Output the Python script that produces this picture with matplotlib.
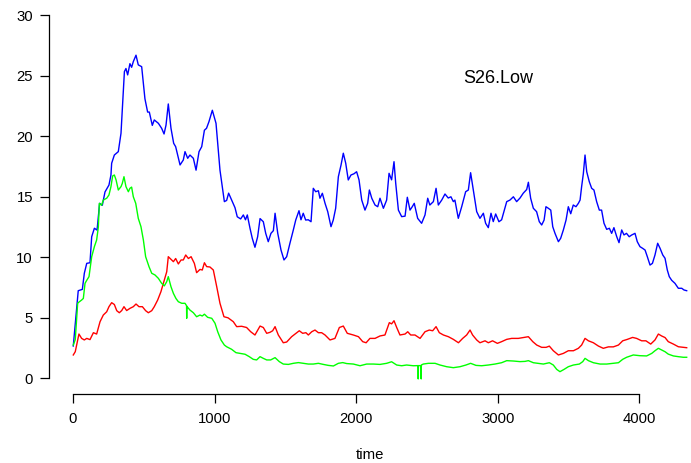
import matplotlib
matplotlib.use("Agg")
import matplotlib.pyplot as plt

plt.rcParams["font.family"] = ["Liberation Sans", "DejaVu Sans"]

# Blue series (time, value)
blue_t = [2, 37, 66, 80, 97, 120, 132, 151, 170, 188, 207, 226, 254, 268, 273, 292, 320,
          339, 363, 374, 386, 402, 414, 426, 445, 461, 485, 508, 527, 539, 560, 574, 603,
          626, 643, 657, 673, 692, 711, 725, 756, 779, 791, 810, 826, 850, 869, 890, 909,
          928, 943, 960, 984, 1010, 1038, 1069, 1085, 1099, 1120, 1144, 1160, 1184, 1203,
          1218, 1231, 1250, 1266, 1285, 1304, 1321, 1344, 1361, 1379, 1398, 1415, 1427,
          1446, 1469, 1490, 1509, 1532, 1556, 1573, 1596, 1610, 1626, 1643, 1662, 1681,
          1697, 1714, 1733, 1744, 1761, 1780, 1799, 1822, 1838, 1855, 1874, 1893, 1909,
          1926, 1944, 1963, 1984, 2003, 2020, 2039, 2062, 2081, 2093, 2110, 2133, 2152,
          2168, 2192, 2215, 2232, 2250, 2267, 2279, 2298, 2321, 2345, 2361, 2380, 2396,
          2410, 2434, 2462, 2486, 2505, 2520, 2545, 2564, 2580, 2604, 2627, 2650, 2669,
          2686, 2697, 2721, 2745, 2773, 2792, 2808, 2827, 2851, 2874, 2898, 2914, 2933,
          2952, 2968, 2985, 3008, 3027, 3046, 3063, 3086, 3110, 3133, 3157, 3180, 3204,
          3216, 3232, 3251, 3274, 3293, 3310, 3327, 3340, 3357, 3374, 3388, 3404, 3428,
          3444, 3463, 3482, 3498, 3515, 3533, 3552, 3569, 3581, 3592, 3604, 3616, 3628,
          3646, 3663, 3679, 3698, 3717, 3733, 3750, 3769, 3788, 3804, 3820, 3840, 3856,
          3875, 3891, 3909, 3928, 3945, 3969, 3985, 4004, 4023, 4040, 4056, 4075, 4092,
          4110, 4129, 4146, 4165, 4181, 4197, 4211, 4228, 4251, 4275, 4299, 4315, 4334]
blue_v = [2.67, 7.24, 7.35, 8.68, 9.5, 9.55, 11.7, 12.4, 12.25, 14.46, 14.3, 15.4, 15.97,
          16.8, 17.77, 18.45, 18.73, 20.25, 25.34, 25.6, 25.07, 26.0, 25.7, 26.17, 26.7,
          25.9, 25.75, 23.1, 22.0, 22.0, 20.9, 21.35, 21.07, 20.66, 20.19, 20.93, 22.67,
          20.66, 19.42, 19.14, 17.63, 18.04, 18.73, 18.18, 18.45, 18.18, 17.2, 18.73,
          19.14, 20.5, 20.66, 21.2, 22.15, 21.07, 17.2, 14.6, 14.7, 15.3, 14.73, 14.1,
          13.35, 13.17, 13.5, 13.1, 13.5, 12.4, 11.57, 10.83, 11.7, 13.2, 12.94, 11.98,
          11.29, 11.98, 12.2, 13.64, 11.98, 10.6, 9.78, 10.05, 11.16, 12.26, 13.08, 13.85,
          13.1, 13.64, 13.08, 13.1, 12.94, 15.7, 15.42, 15.5, 14.88, 15.29, 14.46, 13.77,
          12.53, 13.08, 14.05, 16.66, 17.63, 18.6, 17.77, 16.39, 16.8, 16.9, 17.07, 16.39,
          14.73, 13.9, 14.46, 15.56, 14.88, 14.32, 14.18, 14.88, 14.05, 14.73, 16.94,
          16.4, 17.9, 16.12, 13.9, 13.36, 13.4, 14.96, 13.9, 14.18, 14.46, 13.22, 12.81,
          13.5, 14.88, 14.32, 14.6, 15.7, 14.32, 14.73, 15.23, 14.9, 15.0, 14.6, 14.73,
          13.22, 14.18, 15.42, 15.56, 16.99, 15.56, 13.77, 13.22, 13.64, 12.81, 12.45,
          13.64, 12.95, 13.58, 12.94, 13.1, 13.9, 14.6, 14.73, 15.0, 14.6, 14.9, 15.3,
          15.6, 16.2, 14.88, 14.05, 13.77, 12.94, 12.67, 13.08, 14.18, 14.05, 13.9, 12.53,
          11.98, 11.29, 11.57, 12.26, 13.08, 14.18, 13.6, 14.32, 14.18, 14.46, 14.73,
          15.84, 16.9, 18.45, 17.07, 16.25, 15.7, 15.56, 14.6, 13.9, 13.9, 12.81, 12.31,
          12.4, 11.98, 12.45, 11.7, 11.21, 12.26, 11.85, 11.98, 11.7, 11.84, 11.98, 11.29,
          10.88, 10.74, 10.6, 10.05, 9.36, 9.5, 10.19, 11.16, 10.74, 10.19, 9.92, 8.95,
          8.4, 8.1, 7.85, 7.44, 7.44, 7.3, 7.24]

# Red series (time, value)
red_t = [2, 16, 42, 61, 80, 97, 120, 144, 167, 191, 214, 238, 254, 273, 292, 309, 327,
         344, 360, 379, 402, 426, 445, 466, 490, 513, 532, 556, 574, 598, 621, 645, 662,
         673, 692, 709, 725, 744, 763, 779, 796, 815, 834, 857, 873, 897, 913, 928, 944,
         967, 991, 1015, 1038, 1066, 1095, 1132, 1156, 1191, 1226, 1255, 1285, 1321,
         1344, 1368, 1391, 1410, 1427, 1450, 1485, 1509, 1544, 1580, 1598, 1622, 1645,
         1662, 1686, 1709, 1733, 1756, 1780, 1815, 1850, 1881, 1909, 1937, 1980, 2016,
         2046, 2070, 2097, 2133, 2168, 2203, 2234, 2250, 2267, 2286, 2309, 2345, 2364,
         2385, 2415, 2451, 2486, 2516, 2540, 2564, 2587, 2616, 2651, 2686, 2722, 2752,
         2780, 2804, 2822, 2851, 2874, 2910, 2933, 2963, 2997, 3027, 3063, 3098, 3145,
         3180, 3216, 3247, 3275, 3310, 3341, 3364, 3392, 3428, 3463, 3498, 3534, 3569,
         3592, 3616, 3640, 3675, 3710, 3745, 3781, 3816, 3852, 3882, 3915, 3952, 3980,
         4016, 4046, 4080, 4110, 4134, 4157, 4181, 4204, 4240, 4275, 4310, 4334]
red_v = [1.93, 2.2, 3.66, 3.3, 3.17, 3.3, 3.2, 3.77, 3.66, 4.68, 5.23, 5.5, 5.92, 6.25,
         6.1, 5.59, 5.42, 5.6, 5.92, 5.6, 5.78, 5.92, 6.14, 5.92, 5.92, 5.59, 5.42, 5.59,
         5.92, 6.47, 7.16, 8.12, 8.81, 10.05, 9.83, 9.64, 9.9, 9.45, 9.78, 9.78, 10.19,
         9.9, 10.05, 9.5, 8.73, 9.0, 8.95, 9.55, 9.23, 9.2, 8.95, 7.57, 6.2, 5.09, 5.0,
         4.68, 4.27, 4.3, 4.2, 3.85, 3.58, 4.32, 4.2, 3.72, 3.8, 3.93, 4.27, 3.58, 2.94,
         3.0, 3.44, 3.77, 3.93, 3.72, 3.77, 3.58, 3.85, 3.99, 3.77, 3.77, 3.58, 3.17, 3.3,
         4.2, 4.32, 3.72, 3.58, 3.44, 3.03, 2.94, 3.3, 3.3, 3.5, 3.58, 4.6, 4.5, 4.76,
         4.2, 3.58, 3.66, 3.85, 3.58, 3.58, 3.3, 3.85, 3.99, 3.93, 4.27, 3.77, 3.58, 3.44,
         3.22, 2.94, 3.3, 3.58, 3.99, 3.58, 3.17, 2.94, 3.1, 2.94, 3.1, 2.89, 3.03, 3.22,
         3.3, 3.3, 3.37, 3.44, 3.03, 2.75, 2.56, 2.56, 2.66, 2.28, 1.93, 2.06, 2.28, 2.28,
         2.48, 2.75, 3.3, 3.1, 2.94, 2.67, 2.48, 2.6, 2.6, 2.75, 3.1, 3.22, 3.38, 3.3,
         3.1, 3.1, 2.83, 3.17, 3.66, 3.5, 3.37, 3.03, 2.83, 2.61, 2.56, 2.53]

# Green series (time, value)
green_t = [2, 16, 33, 42, 61, 73, 85, 97, 113, 132, 151, 167, 179, 186, 202, 214, 238,
           254, 268, 280, 292, 304, 320, 339, 348, 360, 374, 391, 402, 414, 426, 443, 461,
           480, 497, 513, 537, 556, 579, 603, 626, 645, 662, 673, 692, 709, 727, 744, 768,
           791, 802, 803, 804, 826, 850, 873, 897, 913, 928, 951, 980, 1003, 1022, 1045,
           1069, 1085, 1120, 1151, 1179, 1215, 1245, 1273, 1297, 1321, 1344, 1368, 1396,
           1427, 1457, 1485, 1521, 1556, 1592, 1627, 1662, 1697, 1733, 1768, 1803, 1839,
           1874, 1905, 1933, 1980, 2027, 2074, 2121, 2168, 2215, 2250, 2286, 2321, 2356,
           2403, 2437, 2438, 2439, 2458, 2459, 2460, 2474, 2510, 2557, 2592, 2639, 2686,
           2733, 2775, 2808, 2846, 2886, 2933, 2980, 3027, 3063, 3110, 3157, 3192, 3216,
           3251, 3286, 3322, 3364, 3392, 3416, 3439, 3468, 3498, 3534, 3576, 3600, 3616,
           3640, 3675, 3722, 3769, 3816, 3852, 3882, 3910, 3957, 4004, 4051, 4087, 4110,
           4134, 4157, 4181, 4204, 4240, 4275, 4310, 4334]
green_v = [2.75, 3.2, 6.2, 6.3, 6.47, 6.6, 7.85, 8.1, 8.4, 10.05, 10.88, 11.43, 12.5,
           14.46, 14.3, 14.73, 14.88, 15.15, 15.84, 16.72, 16.8, 16.4, 15.56, 15.84, 16.1,
           16.66, 15.84, 15.42, 15.7, 15.8, 15.0, 14.46, 13.22, 12.53, 11.43, 10.05, 9.22,
           8.68, 8.54, 8.26, 7.85, 7.64, 7.99, 8.4, 7.57, 7.02, 6.6, 6.33, 6.2, 6.2, 6.0,
           4.96, 5.95, 5.64, 5.42, 5.09, 5.23, 5.15, 5.3, 5.04, 4.96, 4.55, 3.85, 3.17,
           2.75, 2.61, 2.4, 2.12, 2.06, 1.99, 1.79, 1.57, 1.52, 1.79, 1.65, 1.52, 1.52,
           1.71, 1.38, 1.18, 1.15, 1.24, 1.3, 1.24, 1.18, 1.18, 1.24, 1.15, 1.07, 1.02,
           1.24, 1.3, 1.22, 1.18, 1.04, 1.18, 1.18, 1.15, 1.24, 1.37, 1.1, 1.04, 1.1,
           1.04, 1.05, -0.05, 1.05, 1.05, -0.05, 1.1, 1.18, 1.24, 1.24, 1.1, 0.96, 0.88,
           0.96, 1.1, 1.24, 1.07, 1.04, 1.1, 1.18, 1.29, 1.46, 1.43, 1.38, 1.4, 1.46,
           1.29, 1.24, 1.18, 1.29, 1.1, 0.74, 0.55, 0.74, 0.96, 1.1, 1.18, 1.38, 1.65,
           1.46, 1.29, 1.18, 1.18, 1.24, 1.29, 1.57, 1.74, 1.93, 1.87, 1.85, 2.06, 2.28,
           2.48, 2.34, 2.2, 2.0, 1.85, 1.79, 1.74, 1.74]

x_ticks = [0, 1000, 2000, 3000, 4000]
y_ticks = [0, 5, 10, 15, 20, 25, 30]

fig = plt.figure(figsize=(6.91, 4.63), dpi=100)
ax = fig.add_axes([48.6 / 691, (463 - 393.7) / 463, (691 - 48.6) / 691, 393.7 / 463])

ax.plot(blue_t, blue_v, color="#0000FF", lw=1.0)
ax.plot(red_t, red_v, color="#FF0000", lw=1.0)
ax.plot(green_t, green_v, color="#00FF00", lw=1.0)

ax.set_xlim(-172.3, 4364.4)
ax.set_ylim(-1.27, 31.26)

for side in ("top", "right"):
    ax.spines[side].set_visible(False)
ax.spines["left"].set_bounds(0, 30)
ax.spines["bottom"].set_bounds(0, 4000)
for side in ("left", "bottom"):
    ax.spines[side].set_linewidth(0.9)

ax.set_xticks(x_ticks)
ax.set_yticks(y_ticks)
ax.tick_params(axis="both", length=6.3, width=0.9, labelsize=10.7, colors="#000000")
ax.tick_params(axis="x", pad=7.0)
ax.tick_params(axis="y", pad=5)

ax.set_xlabel("time", fontsize=10.7, labelpad=15.5)
ax.text(3000, 24.75, "S26.Low", fontsize=13, ha="center", va="center")

fig.savefig("out.png", dpi=100)
